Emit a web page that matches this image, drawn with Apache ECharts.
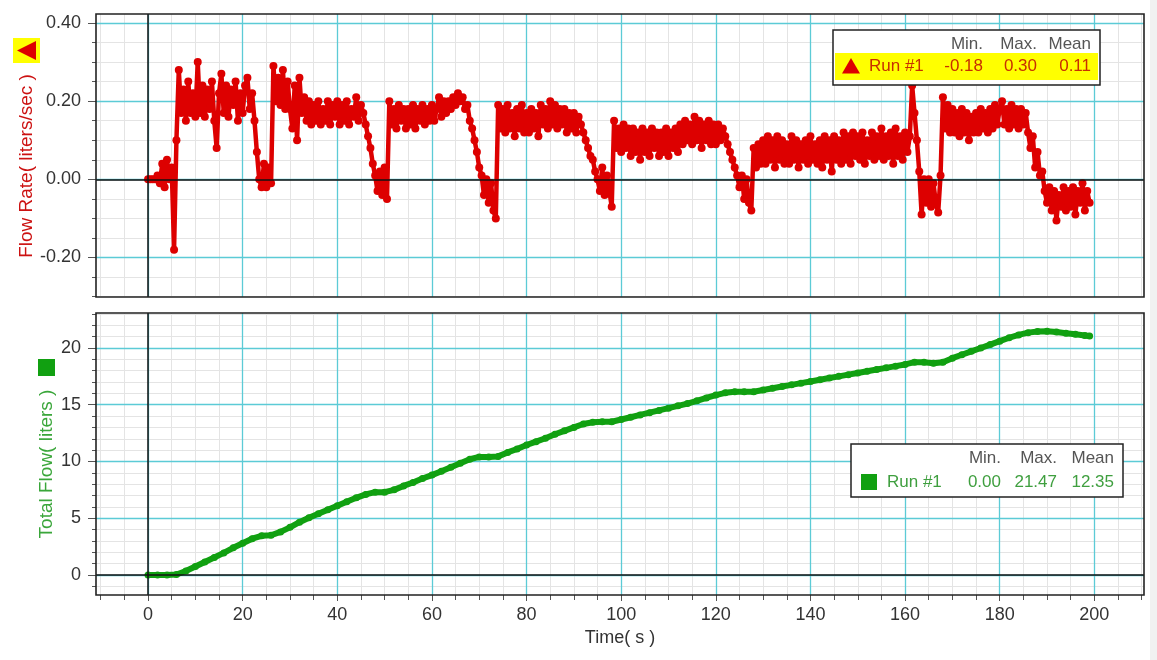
<!DOCTYPE html>
<html><head><meta charset="utf-8">
<script src="https://cdn.jsdelivr.net/npm/echarts@6/dist/echarts.min.js"></script>
<style>html,body{margin:0;padding:0;background:#fff}#c{width:1157px;height:660px}</style>
</head><body><div id="c"></div>
<script>
// ---------------- DATA ----------------
const RATE_STEP = 0.5; // seconds between flow-rate samples (t = 0 ... 199)
const flowRate = [
  0, 0, 0, 0, 0.01, -0.01, 0.04, -0.02, 0.05, 0.00,
  0.03, -0.18, 0.10, 0.28, 0.17, 0.23, 0.15, 0.25, 0.17, 0.22,
  0.16, 0.30, 0.17, 0.24, 0.16, 0.23, 0.18, 0.25, 0.15, 0.08,
  0.22, 0.27, 0.17, 0.24, 0.16, 0.23, 0.19, 0.25, 0.15, 0.22,
  0.17, 0.24, 0.26, 0.18, 0.22, 0.15, 0.07, 0.00, -0.02, 0.04,
  -0.02, 0.03, -0.01, 0.29, 0.20, 0.26, 0.19, 0.28, 0.18, 0.25,
  0.18, 0.13, 0.24, 0.10, 0.26, 0.17, 0.21, 0.15, 0.20, 0.14,
  0.19, 0.15, 0.20, 0.14, 0.18, 0.15, 0.20, 0.14, 0.19, 0.16,
  0.20, 0.14, 0.19, 0.15, 0.20, 0.14, 0.18, 0.16, 0.21, 0.15,
  0.19, 0.17, 0.14, 0.11, 0.08, 0.04, 0.01, -0.03, 0.02, -0.04,
  0.03, -0.05, 0.20, 0.14, 0.18, 0.13, 0.19, 0.15, 0.18, 0.13,
  0.18, 0.14, 0.19, 0.13, 0.18, 0.15, 0.19, 0.14, 0.18, 0.15,
  0.19, 0.15, 0.18, 0.21, 0.16, 0.20, 0.17, 0.20, 0.18, 0.21,
  0.19, 0.22, 0.20, 0.21, 0.18, 0.19, 0.15, 0.13, 0.10, 0.07,
  0.03, 0.01, -0.04, 0.00, -0.06, -0.01, -0.08, -0.10, 0.19, 0.13,
  0.18, 0.12, 0.19, 0.13, 0.17, 0.11, 0.18, 0.13, 0.19, 0.12,
  0.17, 0.12, 0.18, 0.13, 0.17, 0.11, 0.19, 0.14, 0.18, 0.13,
  0.20, 0.14, 0.19, 0.13, 0.18, 0.14, 0.18, 0.12, 0.17, 0.13,
  0.17, 0.12, 0.16, 0.14, 0.12, 0.10, 0.08, 0.06, 0.05, 0.02,
  0.00, -0.03, 0.03, -0.04, 0.01, -0.03, -0.07, 0.15, 0.08, 0.13,
  0.07, 0.14, 0.08, 0.13, 0.06, 0.13, 0.07, 0.12, 0.05, 0.13,
  0.07, 0.12, 0.06, 0.13, 0.08, 0.12, 0.06, 0.12, 0.07, 0.13,
  0.06, 0.12, 0.08, 0.13, 0.07, 0.14, 0.09, 0.15, 0.10, 0.14,
  0.09, 0.16, 0.10, 0.15, 0.08, 0.14, 0.10, 0.15, 0.09, 0.14,
  0.09, 0.14, 0.10, 0.13, 0.11, 0.09, 0.07, 0.05, 0.03, 0.01,
  -0.02, 0.01, -0.05, 0.00, -0.06, -0.08, 0.08, 0.03, 0.09, 0.04,
  0.10, 0.04, 0.11, 0.05, 0.10, 0.03, 0.11, 0.05, 0.10, 0.04,
  0.09, 0.04, 0.11, 0.05, 0.10, 0.03, 0.09, 0.05, 0.10, 0.04,
  0.11, 0.05, 0.09, 0.04, 0.10, 0.03, 0.11, 0.05, 0.10, 0.02,
  0.11, 0.05, 0.10, 0.04, 0.12, 0.05, 0.11, 0.04, 0.12, 0.06,
  0.11, 0.05, 0.12, 0.04, 0.10, 0.06, 0.12, 0.05, 0.11, 0.06,
  0.13, 0.05, 0.11, 0.06, 0.12, 0.04, 0.13, 0.06, 0.11, 0.05,
  0.12, 0.07, 0.11, 0.24, 0.17, 0.10, 0.02, -0.09, 0.00, -0.06,
  0.00, -0.07, -0.01, -0.06, -0.085, 0.01, 0.21, 0.13, 0.19, 0.12,
  0.18, 0.12, 0.17, 0.11, 0.18, 0.12, 0.17, 0.10, 0.16, 0.12,
  0.17, 0.12, 0.18, 0.13, 0.17, 0.12, 0.18, 0.13, 0.19, 0.14,
  0.18, 0.20, 0.14, 0.18, 0.13, 0.19, 0.14, 0.18, 0.13, 0.18,
  0.14, 0.17, 0.12, 0.08, 0.11, 0.03, 0.07, 0.01, 0.02, -0.03,
  -0.06, -0.02, -0.08, -0.03, -0.105, -0.04, -0.07, -0.02, -0.08, -0.03,
  -0.07, -0.02, -0.09, -0.03, -0.06, -0.01, -0.08, -0.03, -0.06
];

const totalTime = [
  0, 2, 4, 6, 8, 10, 12, 14, 16, 18, 20, 22, 24, 26, 28, 30, 32, 34, 36, 38,
  40, 42, 44, 46, 48, 50, 52, 54, 56, 58, 60, 62, 64, 66, 68, 70, 72, 74, 76, 78,
  80, 82, 84, 86, 88, 90, 92, 94, 96, 98, 100, 102, 104, 106, 108, 110, 112, 114, 116, 118,
  120, 122, 124, 126, 128, 130, 132, 134, 136, 138, 140, 142, 144, 146, 148, 150, 152, 154, 156, 158,
  160, 162, 164, 166, 168, 170, 172, 174, 176, 178, 180, 182, 184, 186, 188, 190, 192, 194, 196, 198, 199
];
const totalFlow = [
  0, 0, 0, 0.05, 0.35, 0.75, 1.15, 1.55, 1.95, 2.4,
  2.8, 3.2, 3.45, 3.5, 3.8, 4.2, 4.65, 5.05, 5.4, 5.75,
  6.1, 6.45, 6.8, 7.1, 7.3, 7.3, 7.5, 7.85, 8.15, 8.5,
  8.8, 9.15, 9.5, 9.85, 10.2, 10.4, 10.4, 10.45, 10.8, 11.1,
  11.45, 11.75, 12.05, 12.4, 12.7, 13.0, 13.3, 13.45, 13.5, 13.5,
  13.7, 13.9, 14.1, 14.3, 14.5, 14.7, 14.9, 15.1, 15.35, 15.6,
  15.85, 16.05, 16.15, 16.15, 16.15, 16.3, 16.45, 16.6, 16.75, 16.9,
  17.05, 17.2, 17.35, 17.5, 17.65, 17.8, 17.95, 18.1, 18.25, 18.4,
  18.55, 18.75, 18.75, 18.65, 18.75, 19.1, 19.4, 19.7, 20.0, 20.3,
  20.6, 20.9, 21.15, 21.35, 21.45, 21.47, 21.4, 21.3, 21.2, 21.1,
  21.05
];

const xTicks = [0, 20, 40, 60, 80, 100, 120, 140, 160, 180, 200];
const rateTicks = [-0.2, 0, 0.2, 0.4];
const totalTicks = [0, 5, 10, 15, 20];

const rateStats = {name: 'Run #1', min: '-0.18', max: '0.30', mean: '0.11'};
const totalStats = {name: 'Run #1', min: '0.00', max: '21.47', mean: '12.35'};

// ---------------- CHART ----------------
const FONT = '"Liberation Sans", Arial, sans-serif';
const CYAN = '#5ccbd6';
const MINOR = '#e4e4e4';
const RED = '#dd0000';
const GREEN = '#11a011';
const range = (a, b, s) => { const r = []; for (let v = a; v <= b + 1e-9; v += s) r.push(+v.toFixed(4)); return r; };
const xMinor = range(-10, 210, 5);
const rateMinor = range(-0.30, 0.40, 0.05);
const totalMinor = range(-1, 23, 1);

const X_MIN = -11, X_MAX = 210.5;
const G1 = {left: 96, top: 14, width: 1048, height: 283};
const G2 = {left: 96, top: 313, width: 1048, height: 282};

const ratePts = flowRate.map((v, i) => [i * RATE_STEP, v]);
const totalPts = totalFlow.map((v, i) => [totalTime[i], v]);

function xAxisDef(grid, ticks, major, labels) {
  return {
    gridIndex: grid, type: 'value', min: X_MIN, max: X_MAX, position: 'bottom',
    z: major ? 1 : 0,
    axisLine: {show: false, onZero: false},
    axisTick: {show: grid === 1, customValues: ticks, length: major ? 6 : 5, lineStyle: {color: '#555'}},
    axisLabel: labels ? {show: true, customValues: labels, color: '#333', fontSize: 18, fontFamily: FONT, margin: 11} : {show: false},
    splitLine: {show: true, lineStyle: {color: major ? CYAN : MINOR, width: major ? 1.3 : 1}}
  };
}
function yAxisDef(grid, min, max, ticks, major, labels, fmt) {
  return {
    gridIndex: grid, type: 'value', min: min, max: max, position: 'left',
    z: major ? 1 : 0,
    axisLine: {show: false, onZero: false},
    axisTick: {show: true, customValues: ticks, length: major ? 8 : 4, lineStyle: {color: '#555'}},
    axisLabel: labels ? {show: true, customValues: labels, color: '#333', fontSize: 18, fontFamily: FONT, margin: 15, formatter: fmt} : {show: false},
    splitLine: {show: true, lineStyle: {color: major ? CYAN : MINOR, width: major ? 1.3 : 1}}
  };
}

const zeroLine = {
  silent: true, symbol: ['none', 'none'], label: {show: false},
  lineStyle: {color: '#111', width: 1.5, type: 'solid'},
  emphasis: {disabled: true},
  data: [{xAxis: 0}, {yAxis: 0}]
};

function legendBox(x, y, w, h, rowY, rowH, rowFill, color, stats, iconFn, cols) {
  const els = [
    {type: 'rect', shape: {x: x, y: y, width: w, height: h}, style: {fill: '#fff', stroke: '#222', lineWidth: 1.5}, z: 20},
  ];
  if (rowFill) els.push({type: 'rect', shape: {x: x + 2, y: rowY, width: w - 4, height: rowH}, style: {fill: rowFill}, z: 21});
  const hy = y + 14, ry = rowY + rowH / 2;
  const heads = ['Min.', 'Max.', 'Mean'];
  const vals = [stats.min, stats.max, stats.mean];
  heads.forEach((t, i) => els.push({type: 'text', x: cols[i], y: hy, z: 22,
    style: {text: t, fill: '#555', font: '17px ' + FONT, align: 'right', verticalAlign: 'middle'}}));
  vals.forEach((t, i) => els.push({type: 'text', x: cols[i], y: ry, z: 22,
    style: {text: t, fill: color, font: '17px ' + FONT, align: 'right', verticalAlign: 'middle'}}));
  els.push({type: 'text', x: cols[3], y: ry, z: 22,
    style: {text: stats.name, fill: color, font: '17px ' + FONT, align: 'left', verticalAlign: 'middle'}});
  els.push(iconFn(ry));
  return els;
}

const graphics = [
  {type: 'rect', shape: {x: G1.left, y: G1.top, width: G1.width, height: G1.height}, style: {fill: null, stroke: '#222', lineWidth: 1.6}, z: 10},
  {type: 'rect', shape: {x: G2.left, y: G2.top, width: G2.width, height: G2.height}, style: {fill: null, stroke: '#222', lineWidth: 1.6}, z: 10},
  {type: 'rect', shape: {x: 1150, y: 0, width: 7, height: 660}, style: {fill: '#f1f1f1'}, z: 1},
  // y-axis titles
  {type: 'text', x: 27, y: 166, rotation: Math.PI / 2, z: 10,
    style: {text: 'Flow Rate( liters/sec )', fill: '#cc1111', font: '19px ' + FONT, align: 'center', verticalAlign: 'middle'}},
  {type: 'rect', shape: {x: 13, y: 38, width: 27, height: 25}, style: {fill: '#ffff00'}, z: 10},
  {type: 'polygon', shape: {points: [[17, 50.5], [36, 41], [36, 60]]}, style: {fill: RED}, z: 11},
  {type: 'text', x: 47, y: 464, rotation: Math.PI / 2, z: 10,
    style: {text: 'Total Flow( liters )', fill: '#3aa63a', font: '19px ' + FONT, align: 'center', verticalAlign: 'middle'}},
  {type: 'rect', shape: {x: 38, y: 359, width: 17, height: 17}, style: {fill: GREEN}, z: 10},
  // x-axis title
  {type: 'text', x: 620, y: 638, z: 10,
    style: {text: 'Time( s )', fill: '#333', font: '18px ' + FONT, align: 'center', verticalAlign: 'middle'}}
].concat(
  legendBox(833, 30, 267, 55, 53, 27, '#ffff00', '#c83000', rateStats,
    ry => ({type: 'polygon', shape: {points: [[851, ry - 8.5], [842, ry + 7], [860, ry + 7]]}, style: {fill: RED}, z: 23}),
    [983, 1037, 1091, 869]),
  legendBox(851, 444, 272, 53, 469, 26, null, '#3f9f3f', totalStats,
    ry => ({type: 'rect', shape: {x: 861, y: ry - 8, width: 16, height: 16}, style: {fill: GREEN}, z: 23}),
    [1001, 1057, 1114, 887])
);

const option = {
  animation: false,
  backgroundColor: '#ffffff',
  grid: [
    Object.assign({show: false, containLabel: false}, G1),
    Object.assign({show: false, containLabel: false}, G2)
  ],
  xAxis: [
    xAxisDef(0, xMinor, false, null),
    xAxisDef(0, xTicks, true, null),
    xAxisDef(1, xMinor, false, null),
    xAxisDef(1, xTicks, true, xTicks)
  ],
  yAxis: [
    yAxisDef(0, -0.301, 0.423, rateMinor, false, null),
    yAxisDef(0, -0.301, 0.423, rateTicks, true, rateTicks, v => v.toFixed(2)),
    yAxisDef(1, -1.76, 23.08, totalMinor, false, null),
    yAxisDef(1, -1.76, 23.08, totalTicks, true, totalTicks, v => String(v))
  ],
  series: [
    {
      type: 'line', xAxisIndex: 0, yAxisIndex: 0, data: ratePts,
      symbol: 'circle', symbolSize: 8, showSymbol: true, showAllSymbol: true,
      lineStyle: {color: RED, width: 4.5, join: 'round'}, itemStyle: {color: RED},
      emphasis: {disabled: true}, markLine: zeroLine, z: 3
    },
    {
      type: 'line', xAxisIndex: 2, yAxisIndex: 2, data: totalPts,
      symbol: 'circle', symbolSize: 7, showSymbol: true, showAllSymbol: true,
      lineStyle: {color: GREEN, width: 6}, itemStyle: {color: GREEN},
      emphasis: {disabled: true}, markLine: zeroLine, z: 3
    }
  ],
  graphic: graphics
};

const chart = echarts.init(document.getElementById('c'), null, {renderer: 'canvas'});
chart.setOption(option);
</script>
</body></html>
